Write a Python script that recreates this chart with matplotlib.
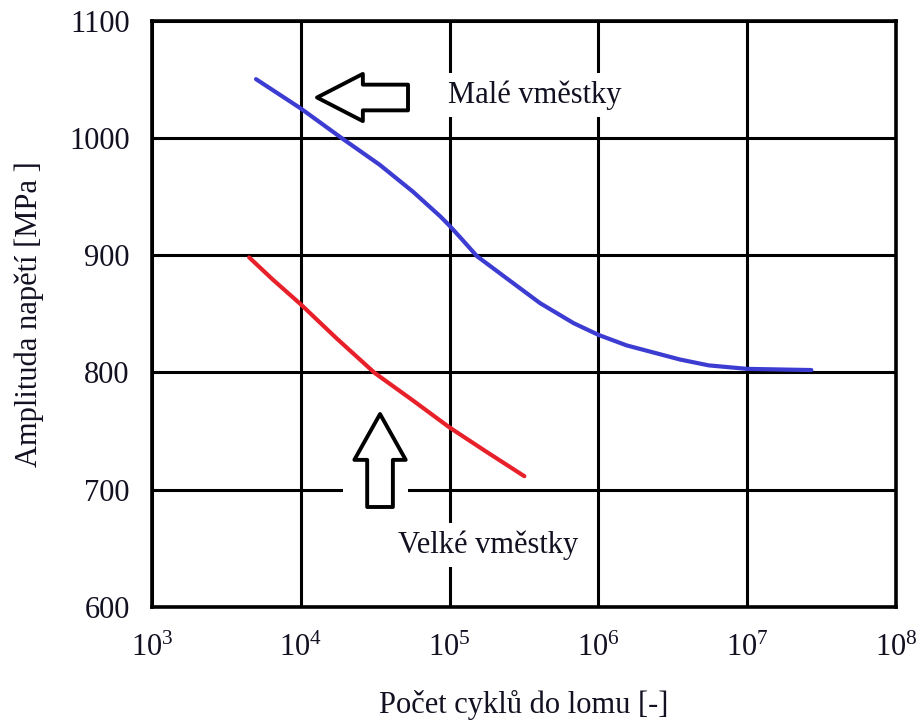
import matplotlib
matplotlib.use('Agg')
import matplotlib.pyplot as plt
from matplotlib.patches import Rectangle
from matplotlib.ticker import LogLocator, LogFormatterMathtext, MultipleLocator, NullLocator

plt.rcParams['font.family'] = ['Liberation Serif', 'DejaVu Serif']
plt.rcParams['mathtext.fontset'] = 'custom'
plt.rcParams['mathtext.rm'] = 'Liberation Serif'
plt.rcParams['mathtext.it'] = 'Liberation Serif:italic'
plt.rcParams['mathtext.default'] = 'regular'

# S-N curves: small inclusions (blue) and large inclusions (red)
small_cycles = [5.0e3, 1.0e4, 1.87e4, 3.39e4, 5.68e4, 8.66e4, 1.0e5, 1.18e5,
                1.53e5, 2.43e5, 4.06e5, 6.81e5, 1.0e6, 1.55e6, 2.34e6, 3.53e6,
                5.5e6, 1.0e7, 2.7e7]
small_stress = [1050, 1025, 1000, 977, 954, 933, 925, 915,
                899, 880, 859, 842, 832, 823, 817, 811,
                806, 803, 802]

large_cycles = [4.5e3, 6.5e3, 1.0e4, 1.74e4, 3.14e4, 5.68e4, 1.0e5, 1.76e5, 3.18e5]
large_stress = [898, 879, 858, 829, 799.5, 776, 753, 732.5, 711.5]

small_label = 'Malé vměstky'
large_label = 'Velké vměstky'

fig = plt.figure(figsize=(9.23, 7.22), dpi=100)
ax = fig.add_axes([0.1647, 0.1593, 0.806, 0.8123])

ax.plot(small_cycles, small_stress, color='#3c3cd2', lw=3.0, zorder=3,
        solid_joinstyle='round', solid_capstyle='round')
ax.plot(large_cycles, large_stress, color='#e8202a', lw=3.0, zorder=3,
        solid_joinstyle='round', solid_capstyle='round')

ax.set_xscale('log')
ax.set_xlim(1e3, 1e8)
ax.set_ylim(600, 1100)
ax.xaxis.set_major_locator(LogLocator(base=10, numticks=10))
ax.xaxis.set_major_formatter(LogFormatterMathtext())
ax.xaxis.set_minor_locator(NullLocator())
ax.yaxis.set_major_locator(MultipleLocator(100))

ax.set_axisbelow(True)
ax.grid(True, color='black', lw=2.2)
for sp in ax.spines.values():
    sp.set_linewidth(2.6)
    sp.set_color('black')

ax.tick_params(axis='both', length=0, labelsize=22, colors='#111122')
ax.tick_params(axis='y', pad=16)
ax.tick_params(axis='x', pad=19)

ax.set_xlabel('Počet cyklů do lomu [-]', fontsize=22, labelpad=20, color='#111122')
ax.set_ylabel('Amplituda napětí [MPa ]', fontsize=22, labelpad=18, color='#111122')

# labels with white boxes that interrupt the grid
ax.text(0.398, 0.873, small_label, transform=ax.transAxes, fontsize=22,
        va='center', ha='left', color='#111122', zorder=2,
        bbox=dict(fc='white', ec='none', pad=5))
ax.text(0.331, 0.106, large_label, transform=ax.transAxes, fontsize=22,
        va='center', ha='left', color='#111122', zorder=2,
        bbox=dict(fc='white', ec='none', pad=5))

# hollow block arrows
ax.annotate('', xy=(0.2218, 0.8687), xytext=(0.3441, 0.8687),
            xycoords='axes fraction', textcoords='axes fraction',
            arrowprops=dict(arrowstyle='simple,head_length=3.3,head_width=3.4,tail_width=1.85',
                            mutation_scale=10, fc='white', ec='black', lw=2.8,
                            shrinkA=0, shrinkB=0),
            zorder=2)

ax.add_patch(Rectangle((0.2567, 0.157), 0.0874, 0.1876, transform=ax.transAxes,
                       fc='white', ec='none', zorder=1.5))
ax.annotate('', xy=(0.3065, 0.329), xytext=(0.3065, 0.1705),
            xycoords='axes fraction', textcoords='axes fraction',
            arrowprops=dict(arrowstyle='simple,head_length=3.3,head_width=3.7,tail_width=1.85',
                            mutation_scale=10, fc='white', ec='black', lw=2.8,
                            shrinkA=0, shrinkB=0),
            zorder=2)

fig.savefig('out.png', dpi=100)
